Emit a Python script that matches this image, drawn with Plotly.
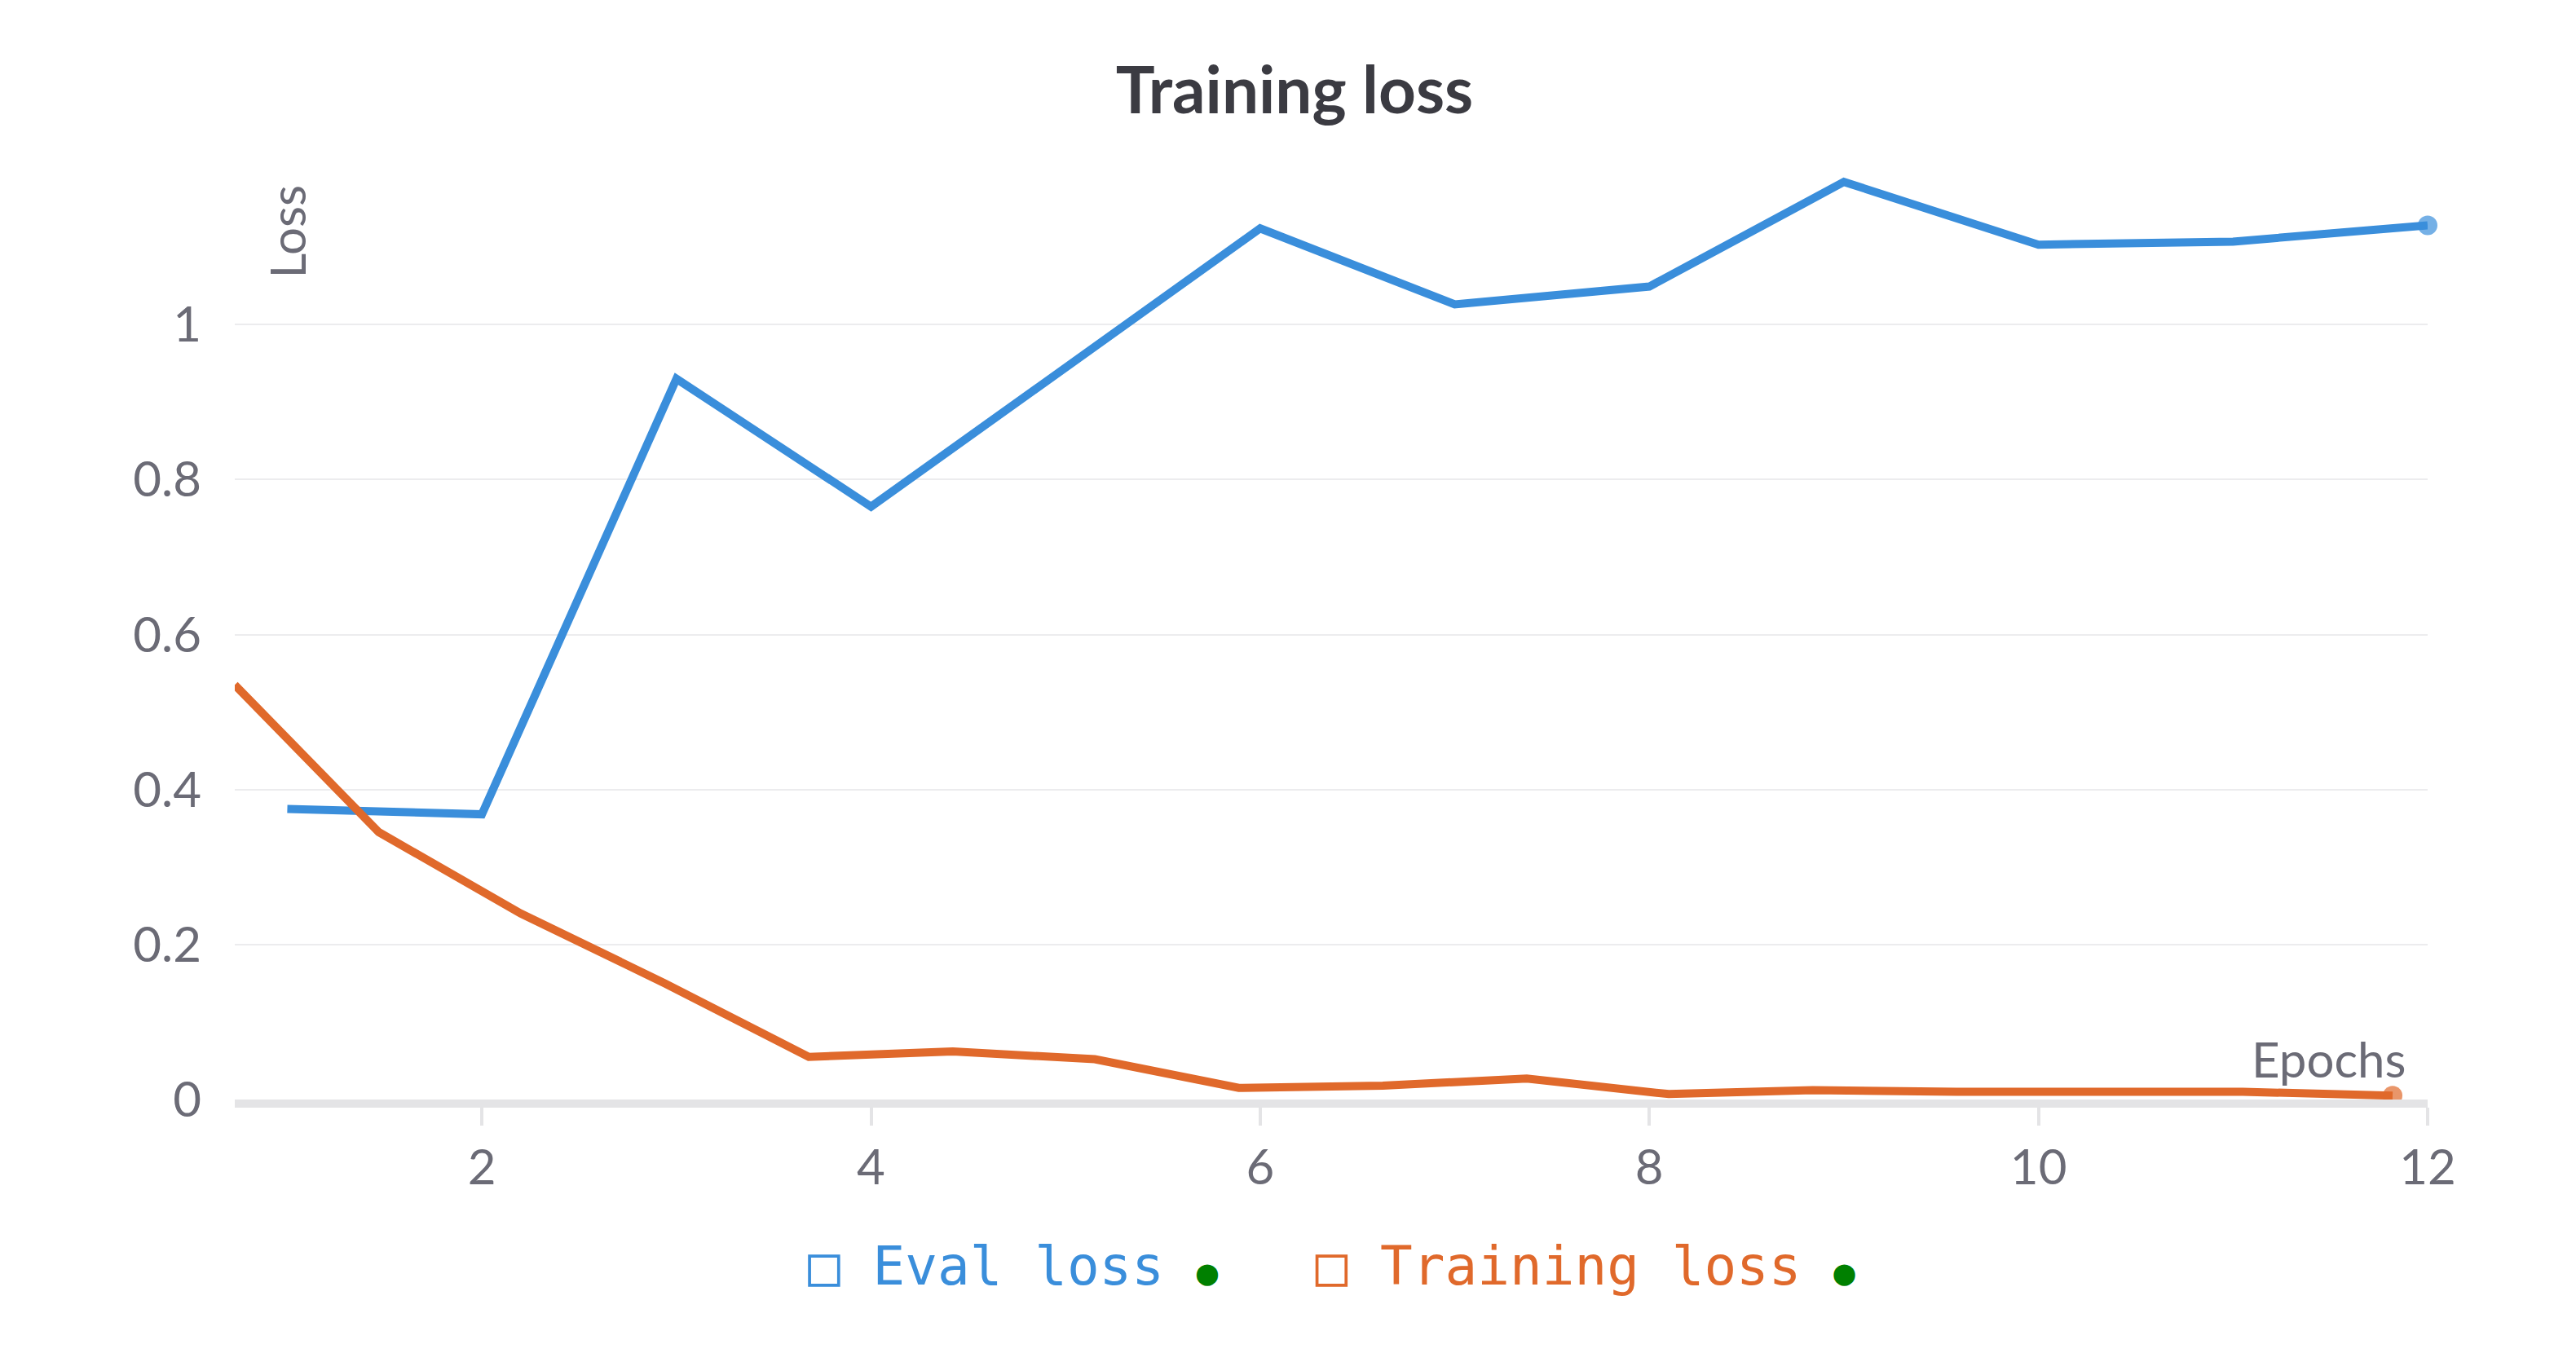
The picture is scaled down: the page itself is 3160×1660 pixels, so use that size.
import plotly.graph_objects as go

eval_epochs = [1, 2, 3, 4, 6, 7, 8, 9, 10, 11, 12]
eval_loss = [0.375, 0.368, 0.93, 0.765, 1.124, 1.026, 1.049, 1.184, 1.103, 1.107, 1.128]

train_epochs = [0.73, 1.47, 2.2, 2.94, 3.68, 4.42, 5.15, 5.89, 6.63, 7.37, 8.1, 8.84,
                9.58, 10.32, 11.05, 11.82]
train_loss = [0.535, 0.345, 0.24, 0.15, 0.055, 0.062, 0.052, 0.015, 0.018, 0.027,
              0.007, 0.012, 0.01, 0.01, 0.01, 0.005]

blue = "#3a8edb"
orange = "#e0692b"
grey = "#6b6b76"

fig = go.Figure()
for xs, ys, c in [(eval_epochs, eval_loss, blue), (train_epochs, train_loss, orange)]:
    sizes = [0] * (len(xs) - 1) + [24]
    fig.add_trace(go.Scatter(x=xs, y=ys, mode="lines+markers", line=dict(color=c, width=10),
                             marker=dict(size=sizes, color=c, line=dict(width=0)),
                             showlegend=False, cliponaxis=False))

fig.update_layout(
    width=3160, height=1660, plot_bgcolor="white", paper_bgcolor="white",
    margin=dict(l=280, r=190, t=200, b=319),
    font=dict(family="Lato", color=grey, size=60),
    title=dict(text="<b>Training loss</b>", x=0.5, xanchor="center", y=0.955,
               font=dict(size=80, color="#3b3b42")),
)
fig.update_xaxes(range=[0.73, 12], tickvals=[2, 4, 6, 8, 10, 12], showgrid=False,
                 showline=True, linecolor="#e4e4e6", linewidth=10, ticks="outside",
                 ticklen=22, tickwidth=4, tickcolor="#e4e4e6", zeroline=False)
fig.update_yaxes(range=[0, 1.2], tickvals=[0, 0.2, 0.4, 0.6, 0.8, 1],
                 ticktext=["0", "0.2", "0.4", "0.6", "0.8", "1"],
                 gridcolor="#ececee", gridwidth=2, zeroline=False, ticklabelstandoff=40)

fig.add_annotation(text="Loss", x=1, y=1.12, xref="x", yref="y", textangle=-90,
                   showarrow=False, font=dict(size=60, color=grey))
fig.add_annotation(text="Epochs", x=11.9, y=0.0, xref="x", yref="y", yanchor="bottom",
                   yshift=12, xanchor="right", showarrow=False, font=dict(size=60, color=grey))

legend = (f"<span style='color:{blue}'>□ Eval loss</span> <span style='color:green;font-size:44px'>●</span>"
          f"   <span style='color:{orange}'>□ Training loss</span> <span style='color:green;font-size:44px'>●</span>")
fig.add_annotation(text=legend, x=0.5, y=-0.215, xref="paper", yref="paper", showarrow=False,
                   font=dict(family="DejaVu Sans Mono", size=66))

fig.write_html("out.html")
